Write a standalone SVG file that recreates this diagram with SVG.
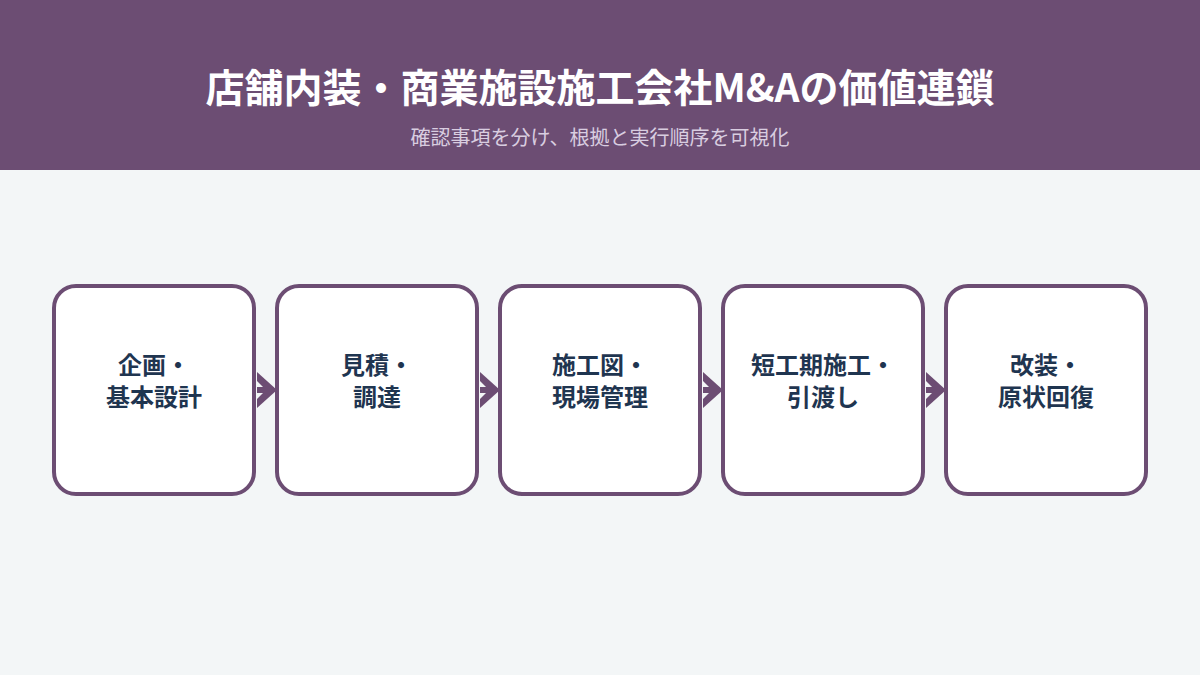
<svg xmlns="http://www.w3.org/2000/svg" width="1200" height="675" viewBox="0 0 1200 675">
  <defs>
    <style>
      .title { font-family: "Noto Sans CJK JP", "Noto Sans", sans-serif; font-weight: 700; font-size: 39px; fill: #ffffff; }
      .sub { font-family: "Noto Sans CJK JP", "Noto Sans", sans-serif; font-weight: 400; font-size: 20px; fill: #d9cde0; }
      .box { fill: #ffffff; stroke: #6c4d73; stroke-width: 4; }
      .label { font-family: "Noto Sans CJK JP", "Noto Sans", sans-serif; font-weight: 700; font-size: 24px; fill: #1f3550; text-anchor: middle; }
      .head { fill: #6c4d73; }
      .notch { fill: #f3f6f7; }
    </style>
    <g id="arrow">
      <polygon class="head" points="0,-18 20,0 0,18"/>
      <polygon class="notch" points="0,-9 6,-3 0,-3"/>
      <polygon class="notch" points="0,3 6,3 0,9"/>
    </g>
  </defs>
  <rect x="0" y="0" width="1200" height="675" fill="#f3f6f7"/>
  <rect x="0" y="0" width="1200" height="170" fill="#6c4d73"/>
  <text class="title" x="600" y="102" text-anchor="middle">店舗内装・商業施設施工会社M&amp;Aの価値連鎖</text>
  <text class="sub" x="600" y="145" text-anchor="middle">確認事項を分け、根拠と実行順序を可視化</text>

  <g id="connectors">
    <use href="#arrow" x="257" y="390"/>
    <use href="#arrow" x="480" y="390"/>
    <use href="#arrow" x="703" y="390"/>
    <use href="#arrow" x="926" y="390"/>
  </g>

  <g id="node1">
    <rect class="box" x="54" y="286" width="200" height="208" rx="22"/>
    <text class="label" x="154" y="374">企画・</text>
    <text class="label" x="154" y="406">基本設計</text>
  </g>
  <g id="node2">
    <rect class="box" x="277" y="286" width="200" height="208" rx="22"/>
    <text class="label" x="377" y="374">見積・</text>
    <text class="label" x="377" y="406">調達</text>
  </g>
  <g id="node3">
    <rect class="box" x="500" y="286" width="200" height="208" rx="22"/>
    <text class="label" x="600" y="374">施工図・</text>
    <text class="label" x="600" y="406">現場管理</text>
  </g>
  <g id="node4">
    <rect class="box" x="723" y="286" width="200" height="208" rx="22"/>
    <text class="label" x="823" y="374">短工期施工・</text>
    <text class="label" x="823" y="406">引渡し</text>
  </g>
  <g id="node5">
    <rect class="box" x="946" y="286" width="200" height="208" rx="22"/>
    <text class="label" x="1046" y="374">改装・</text>
    <text class="label" x="1046" y="406">原状回復</text>
  </g>
</svg>
